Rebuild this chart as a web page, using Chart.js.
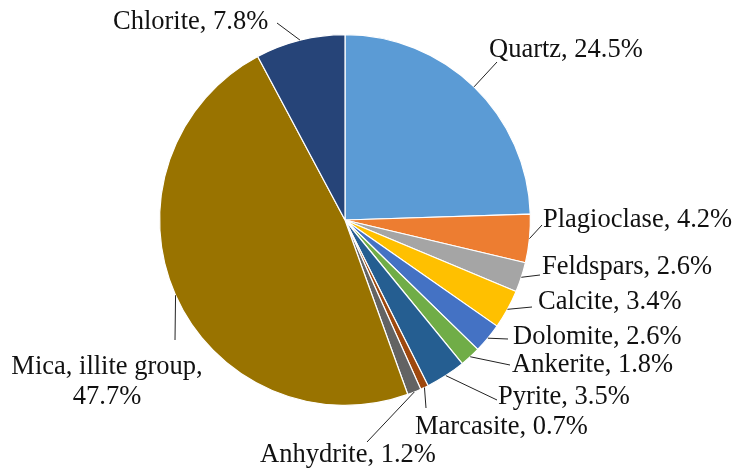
<!DOCTYPE html>
<html>
<head>
<meta charset="utf-8">
<script src="https://cdn.jsdelivr.net/npm/chart.js@4/dist/chart.umd.min.js"></script>
<style>
  html, body { margin: 0; padding: 0; background: #fff; }
  #wrap { width: 740px; height: 471px; position: relative; }
</style>
</head>
<body>
<div id="wrap"><canvas id="pie_canvas"></canvas></div>
<script>
// minerals, clockwise from 12 o'clock
const minerals = ["Quartz", "Plagioclase", "Feldspars", "Calcite", "Dolomite", "Ankerite",
  "Pyrite", "Marcasite", "Anhydrite", "Mica, illite group", "Chlorite"];
const percents = [24.5, 4.2, 2.6, 3.4, 2.6, 1.8, 3.5, 0.7, 1.2, 47.7, 7.8];

const slice_colors = ["#5b9bd5", "#ed7d31", "#a5a5a5", "#ffc000", "#4472c4", "#70ad47",
  "#255e91", "#9e480e", "#636363", "#997300", "#264478"];

// where each label sits and where its leader line ends (same order as minerals)
const label_spots = [
  { tx: 489, ty: 50,  ex: 497, ey: 62 },
  { tx: 543, ty: 220, ex: 542, ey: 225 },
  { tx: 542, ty: 267, ex: 540, ey: 275 },
  { tx: 538, ty: 302, ex: 532, ey: 307 },
  { tx: 513, ty: 337, ex: 508, ey: 339 },
  { tx: 512, ty: 365, ex: 510, ey: 365 },
  { tx: 498, ty: 397, ex: 497, ey: 400 },
  { tx: 415, ty: 427, ex: 426, ey: 408 },
  { tx: 260, ty: 455, ex: 367, ey: 442 },
  { tx: 107, ty: 367, ex: 175, ey: 340, split: true },
  { tx: 113, ty: 22,  ex: 277, ey: 23 }
];

const leader_labels = {
  id: "leader_labels",
  afterDatasetsDraw(chart) {
    const ctx = chart.ctx;
    const arcs = chart.getDatasetMeta(0).data;
    ctx.save();
    ctx.font = "26.5px 'Liberation Serif', 'Times New Roman', serif";
    ctx.fillStyle = "#111";
    ctx.strokeStyle = "#222";
    ctx.lineWidth = 1;
    arcs.forEach((arc, i) => {
      const p = arc.getProps(["x", "y", "startAngle", "endAngle", "outerRadius"], true);
      const mid = (p.startAngle + p.endAngle) / 2;
      const sx = p.x + Math.cos(mid) * p.outerRadius;
      const sy = p.y + Math.sin(mid) * p.outerRadius;
      const spot = label_spots[i];
      ctx.beginPath();
      ctx.moveTo(sx, sy);
      ctx.lineTo(spot.ex, spot.ey);
      ctx.stroke();

      ctx.textBaseline = "middle";
      if (spot.split) {
        // the big slice gets its label on two lines
        ctx.textAlign = "center";
        ctx.fillText(minerals[i] + ",", spot.tx, spot.ty);
        ctx.fillText(percents[i].toFixed(1) + "%", spot.tx, spot.ty + 30);
      } else {
        ctx.textAlign = "left";
        ctx.fillText(minerals[i] + ", " + percents[i].toFixed(1) + "%", spot.tx, spot.ty);
      }
    });
    ctx.restore();
  }
};

const pie_ctx = document.getElementById("pie_canvas");

new Chart(pie_ctx, {
  type: "pie",
  data: {
    labels: minerals,
    datasets: [{
      data: percents,
      backgroundColor: slice_colors,
      borderColor: "#ffffff",
      borderWidth: 1.2
    }]
  },
  options: {
    responsive: true,
    maintainAspectRatio: false,
    animation: false,
    layout: { padding: { left: 159, right: 209, top: 34, bottom: 65 } },
    plugins: {
      legend: { display: false },
      tooltip: { enabled: false }
    }
  },
  plugins: [leader_labels]
});
</script>
</body>
</html>
